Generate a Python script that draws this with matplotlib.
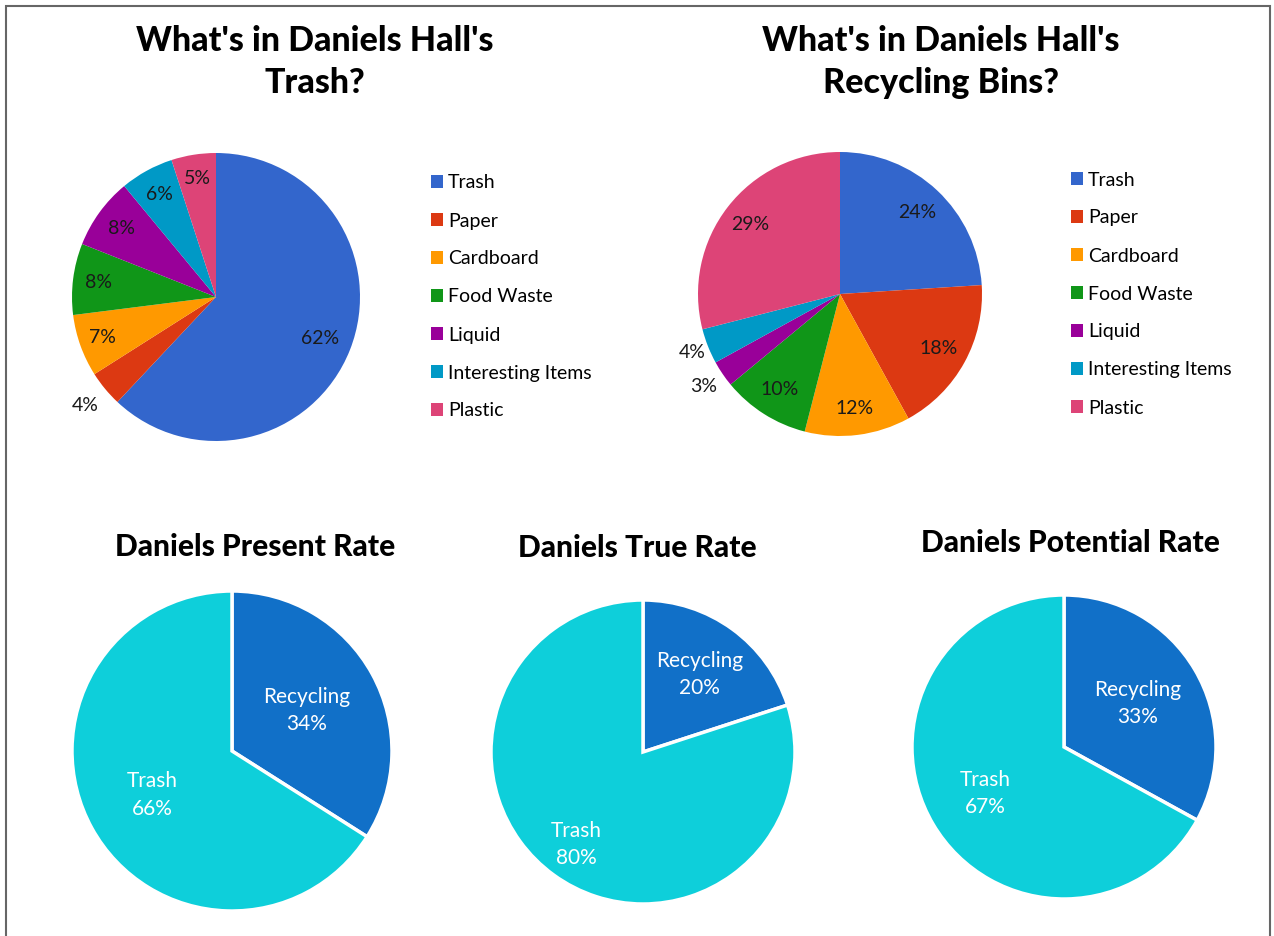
import matplotlib
matplotlib.use('Agg')
import matplotlib.pyplot as plt
import numpy as np
from matplotlib.patches import Rectangle

plt.rcParams['font.family'] = ['Lato', 'DejaVu Sans']

# data
categories = ['Trash', 'Paper', 'Cardboard', 'Food Waste', 'Liquid',
              'Interesting Items', 'Plastic']
trash_bin_pct = [62, 4, 7, 8, 8, 6, 5]
recycling_bin_pct = [24, 18, 12, 10, 3, 4, 29]
cat_colors = ['#3366CC', '#DC3912', '#FF9900', '#109618', '#990099',
              '#0099C6', '#DD4477']

rate_names = ['Recycling', 'Trash']
present_rate = [34, 66]
true_rate = [20, 80]
potential_rate = [33, 67]
rate_colors = ['#1170C8', '#0ECFDA']

W, H = 1274, 936
fig = plt.figure(figsize=(W / 100, H / 100), dpi=100)
fig.patch.set_facecolor('white')

# thin frame around the page
fig.add_artist(Rectangle((6 / W, -0.01), 1264 / W, 1 - 6 / H + 0.01,
                         transform=fig.transFigure, fill=False,
                         edgecolor='#666666', linewidth=1.5))


def pie_axes(cx, cy, r):
    # axes given in pixel centre/radius (y measured from top)
    ax = fig.add_axes([(cx - r) / W, 1 - (cy + r) / H, 2 * r / W, 2 * r / H])
    return ax


def place(ax, wedges, texts, dists):
    for w, t, d in zip(wedges, texts, dists):
        ang = np.deg2rad((w.theta1 + w.theta2) / 2)
        t.set_position((d * np.cos(ang), d * np.sin(ang)))


def category_pie(cx, cy, r, values, dists, legend_x, title, title_x):
    ax = pie_axes(cx, cy, r)
    wedges, _, autotexts = ax.pie(values, colors=cat_colors, startangle=90,
                                  counterclock=False, radius=1,
                                  autopct='%.0f%%',
                                  textprops=dict(fontsize=14, color='#1a1a1a'))
    place(ax, wedges, autotexts, dists)
    ax.set_xlim(-1, 1)
    ax.set_ylim(-1, 1)
    ax.set_aspect('equal')
    fig.legend(wedges, categories, loc='center left',
               bbox_to_anchor=(legend_x / W, 1 - cy / H), frameon=False,
               fontsize=14, handlelength=0.62, handleheight=0.62,
               handletextpad=0.25, labelspacing=1.08, borderpad=0,
               borderaxespad=0)
    fig.text(title_x / W, 1 - 62 / H, title, ha='center', va='center',
             fontsize=24.5, fontweight='black', linespacing=1.38)


category_pie(216, 297, 144, trash_bin_pct,
             [0.78, 1.18, 0.84, 0.82, 0.81, 0.81, 0.83], 431,
             "What's in Daniels Hall's\nTrash?", 315)
category_pie(840, 294, 142, recycling_bin_pct,
             [0.79, 0.79, 0.81, 0.8, 1.16, 1.12, 0.8], 1071,
             "What's in Daniels Hall's\nRecycling Bins?", 941)


def rate_pie(cx, cy, r, values, dists, title, title_x, title_y):
    ax = pie_axes(cx, cy, r)
    wedges, _ = ax.pie(values, colors=rate_colors, startangle=90,
                       counterclock=False, radius=1,
                       wedgeprops=dict(edgecolor='white', linewidth=2.5))
    texts = [ax.text(0, 0, f'{n}\n{v}%', ha='center', va='center',
                     color='white', fontsize=15, linespacing=1.45)
             for n, v in zip(rate_names, values)]
    place(ax, wedges, texts, dists)
    ax.set_xlim(-1, 1)
    ax.set_ylim(-1, 1)
    ax.set_aspect('equal')
    fig.text(title_x / W, 1 - title_y / H, title, ha='center', va='center',
             fontsize=21.5, fontweight='black')


rate_pie(232, 751, 160, present_rate, [0.53, 0.57], 'Daniels Present Rate', 255, 547)
rate_pie(643, 752, 152, true_rate, [0.63, 0.75], 'Daniels True Rate', 637, 548)
rate_pie(1064, 747, 152, potential_rate, [0.56, 0.6], 'Daniels Potential Rate', 1070, 543)

fig.savefig('out.png', dpi=100, facecolor='white')
